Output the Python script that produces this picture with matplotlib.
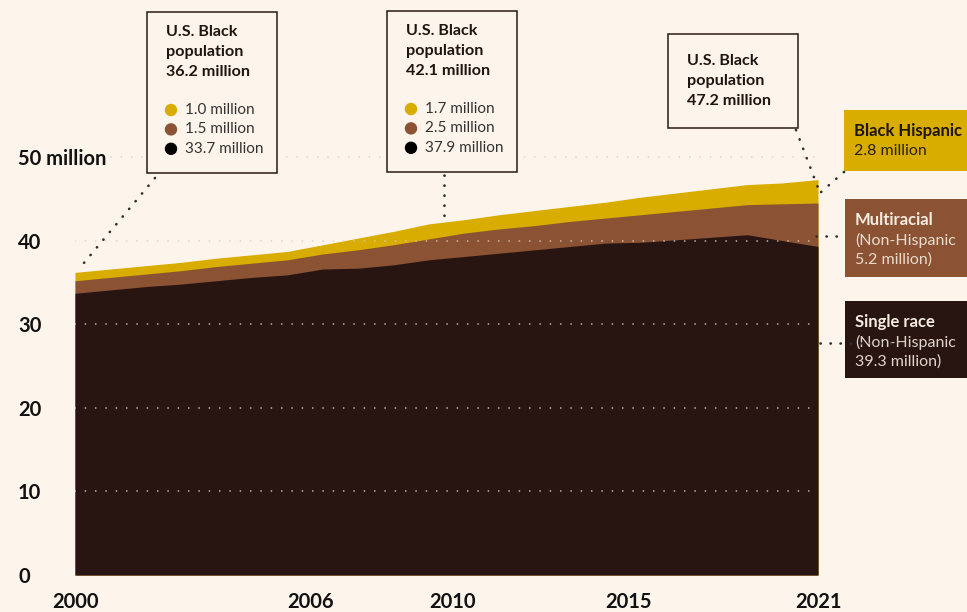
import matplotlib.pyplot as plt
from matplotlib.patches import Rectangle, Circle

years = list(range(2000, 2022))
single_race = [33.7, 34.1, 34.5, 34.8, 35.2, 35.6, 35.9, 36.6, 36.7, 37.1, 37.7,
               38.1, 38.5, 38.9, 39.3, 39.7, 39.8, 40.1, 40.4, 40.7, 40.0, 39.3]
multiracial = [1.5, 1.5, 1.5, 1.6, 1.7, 1.7, 1.8, 1.8, 2.2, 2.4, 2.5,
               2.8, 2.9, 2.9, 3.0, 3.0, 3.3, 3.4, 3.5, 3.6, 4.4, 5.2]
hispanic = [1.0, 1.0, 1.0, 1.0, 1.0, 1.0, 1.0, 1.1, 1.4, 1.6, 1.8,
            1.6, 1.7, 1.8, 1.8, 1.9, 2.1, 2.2, 2.3, 2.4, 2.5, 2.8]

xtick_years = [2000, 2006, 2010, 2015, 2021]
ytick_vals = [0, 10, 20, 30, 40, 50]
ytick_labels = ["0", "10", "20", "30", "40", "50 million"]

# callout boxes: title lines, legend values (gold, brown, black)
callouts = [
    (["U.S. Black", "population", "36.2 million"], ["1.0 million", "1.5 million", "33.7 million"]),
    (["U.S. Black", "population", "42.1 million"], ["1.7 million", "2.5 million", "37.9 million"]),
    (["U.S. Black", "population", "47.2 million"], []),
]
side_labels = [
    ("Black Hispanic", ["2.8 million"]),
    ("Multiracial", ["(Non-Hispanic", "5.2 million)"]),
    ("Single race", ["(Non-Hispanic", "39.3 million)"]),
]

bg = "#fdf5ec"
gold = "#d9ad00"
brown = "#8b5333"
dark = "#281512"
ink = "#1e1410"

plt.rcParams["font.family"] = ["Lato", "DejaVu Sans"]

W, H = 967, 612
fig = plt.figure(figsize=(W / 100, H / 100), dpi=100, facecolor=bg)

# data axes: 0 sits at y=575px, 8.36 px per million
ax = fig.add_axes([75 / W, (H - 575) / H, 743 / W, 575 / H])
ax.set_facecolor(bg)
ax.set_xlim(2000, 2021)
ax.set_ylim(0, 575 / 8.36)

cum2 = [s + m for s, m in zip(single_race, multiracial)]
cum3 = [c + h for c, h in zip(cum2, hispanic)]
ax.fill_between(years, 0, cum3, color=gold, lw=0, zorder=1)
ax.fill_between(years, 0, cum2, color=brown, lw=0, zorder=1)
ax.fill_between(years, 0, single_race, color=dark, lw=0, zorder=1)

grid_style = dict(color="#d8cfc6", lw=1.2, linestyle=(0, (0.1, 6.1)),
                  dash_capstyle="round", alpha=0.85, zorder=3)
for v in ytick_vals[1:-1]:
    ax.axhline(v, **grid_style)
ax.axhline(50, xmin=0.048, **grid_style)

for s in ax.spines.values():
    s.set_visible(False)
ax.set_yticks(ytick_vals, ytick_labels)
ax.set_xticks(xtick_years, [str(y) for y in xtick_years])
ax.tick_params(length=0, labelsize=14.5, labelcolor="#111111")
ax.tick_params(axis="y", pad=41)
ax.tick_params(axis="x", pad=12)
for lab in ax.get_yticklabels() + ax.get_xticklabels():
    lab.set_fontweight("bold")
for lab in ax.get_yticklabels():
    lab.set_horizontalalignment("left")
for lab in ax.get_xticklabels()[1:-1]:
    lab.set_horizontalalignment("left")

# overlay in pixel coords for the annotation layer
ov = fig.add_axes([0, 0, 1, 1], zorder=5)
ov.set_xlim(0, W)
ov.set_ylim(H, 0)
ov.axis("off")
ov.patch.set_alpha(0)

box_pos = [(147, 12, 277, 173), (387, 11, 517, 172), (668, 34, 798, 128)]
dot_cols = [gold, brown, "#000000"]
for (x0, y0, x1, y1), (title, vals) in zip(box_pos, callouts):
    ov.add_patch(Rectangle((x0, y0), x1 - x0, y1 - y0, fc=bg, ec="#2a1a14", lw=1.1, zorder=2))
    tx = x0 + 19
    ty = y0 + 20 if vals else y0 + 27
    for i, line in enumerate(title):
        ov.text(tx, ty + i * 20.2, line, fontsize=11.6, fontweight="bold", color=ink,
                va="center", ha="left", zorder=3)
    for i, (v, c) in enumerate(zip(vals, dot_cols)):
        cy = y0 + 98 + i * 19.4
        ov.add_patch(Circle((tx + 5, cy), 5.5, color=c, zorder=3))
        ov.text(tx + 19, cy, v, fontsize=11, color="#333333", va="center", ha="left", zorder=3)

side_pos = [(844, 110, 171), (845, 199, 277), (845, 301, 378)]
side_fc = [gold, brown, dark]
side_tc = [(ink, "#2a2018"), ("#f6ede2", "#eadbcd"), ("#f6ede2", "#e0d4ca")]
for (x0, y0, y1), (head, rest), fc, (c1, c2) in zip(side_pos, side_labels, side_fc, side_tc):
    ov.add_patch(Rectangle((x0, y0), W - x0, y1 - y0, fc=fc, lw=0, zorder=2))
    ov.text(x0 + 10, y0 + 21, head, fontsize=12, fontweight="bold", color=c1,
            va="center", ha="left", zorder=3)
    for i, line in enumerate(rest):
        ov.text(x0 + 10, y0 + 41 + i * 19.6, line, fontsize=11.5, color=c2,
                va="center", ha="left", zorder=3)

conn = dict(color="#2e2e2e", lw=1.9, linestyle=(0, (0.1, 3.7)),
            dash_capstyle="round", zorder=4)
ov.plot([155, 78], [178, 270], **conn)
ov.plot([444, 444], [175, 218], **conn)
ov.plot([796, 820], [130, 193], **conn)
ov.plot([844, 820], [172, 193], **conn)
ov.plot([816, 845], [236, 236], **conn)
ov.plot([820, 892], [343, 343], **conn)

fig.savefig("out.png", dpi=100, facecolor=bg)
